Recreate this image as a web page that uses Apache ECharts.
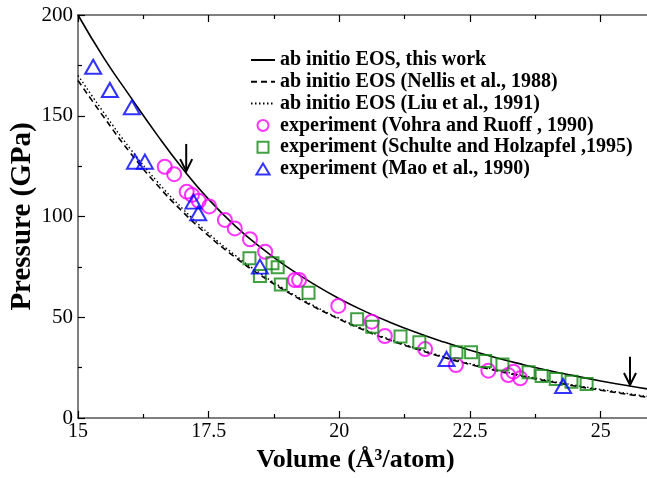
<!DOCTYPE html>
<html><head><meta charset="utf-8">
<script src="https://cdn.jsdelivr.net/npm/echarts@6/dist/echarts.min.js"></script>
<style>html,body{margin:0;padding:0;background:#fff}#c{width:647px;height:478px}</style>
</head><body><div id="c"></div>
<script>
// ---- data ----
const curveV   = [15,15.5,16,16.5,17,17.5,18,18.5,19,19.5,20,20.5,21,21.5,22,22.5,23,23.5,24,24.5,25,25.5,26];
const thisWork = [200,178.5,159.5,141,123.8,108.5,95.5,84.5,75,66.6,59.2,52.8,47.2,42.2,37.7,33.6,29.9,26.6,23.6,20.9,18.4,16.1,14];
const nellis   = [167.5,149.1,131.6,116.1,102.4,90.4,79.9,70.7,62.6,55.4,49,43.3,38.3,34,30,26.6,23.5,20.7,18.2,15.9,13.8,11.8,9.9];
const liu      = [170,151.3,133.6,117.8,103.9,91.6,80.9,71.5,63.2,55.9,49.4,43.7,38.7,34.4,30.4,27,23.9,21.1,18.6,16.3,14.2,12.2,10.3];

const vohraV = [16.66,16.84,17.08,17.18,17.31,17.51,17.81,18.0,18.29,18.58,19.15,19.23,19.98,20.62,20.87,21.64,22.23,22.85,23.23,23.33,23.46];
const vohraP = [124.7,121,112.3,110.7,107.8,105,98.3,94.1,88.7,82.5,68.5,68.5,55.6,47.8,40.7,34.2,26.3,23.5,21.3,23,19.7];

const schulteV = [18.28,18.48,18.72,18.82,18.88,19.41,20.34,20.63,21.17,21.53,22.24,22.52,22.79,23.12,23.62,23.87,24.14,24.44,24.73];
const schulteP = [79.3,70.5,76.8,74.8,66.3,62.2,49,45.3,40.4,37.6,32.6,32.6,28.3,26.6,22.7,20.8,19.4,18,16.9];

const maoV = [15.29,15.61,16.03,16.09,16.28,17.21,17.3,18.48,22.05,24.28];
const maoP = [174.3,162.8,154.2,127.2,127.2,107.4,101.6,75.1,29.3,15.9];

const arrowV     = [17.07, 25.56];
const arrowFromP = [136, 30.4];
const arrowToP   = [122.5, 16.4];

const names = [
  'ab initio EOS, this work',
  'ab initio EOS (Nellis et al., 1988)',
  'ab initio EOS (Liu et al., 1991)',
  'experiment (Vohra and Ruoff , 1990)',
  'experiment (Schulte and Holzapfel ,1995)',
  'experiment (Mao et al., 1990)'
];

const pair = (xs, ys) => xs.map((x, i) => [x, ys[i]]);
const FONT = 'Liberation Serif';

const chart = echarts.init(document.getElementById('c'), null, {renderer: 'canvas'});

const axisCommon = {
  axisLine: {show: true, lineStyle: {color: '#555', width: 1.5}},
  axisTick: {show: true, inside: true, length: 7, lineStyle: {color: '#000', width: 1.2}},
  minorTick: {show: true, splitNumber: 2, length: 4, lineStyle: {color: '#000', width: 1.2}},
  splitLine: {show: false},
  minorSplitLine: {show: false}
};

const option = {
  animation: false,
  backgroundColor: '#fff',
  grid: {left: 78, top: 15, bottom: 60, right: -6, containLabel: false, outerBoundsMode: 'none'},
  xAxis: [
    Object.assign({
      type: 'value', min: 15, max: 26, interval: 2.5, position: 'bottom',
      axisLabel: {fontFamily: FONT, fontSize: 20, color: '#000', margin: 4, showMaxLabel: false},
      name: 'Volume (Å³/atom)', nameLocation: 'middle', nameGap: 29, nameMoveOverlap: false,
      nameTextStyle: {fontFamily: FONT, fontSize: 26, fontWeight: 'bold', color: '#000', padding: [0, 20, 0, 0]}
    }, axisCommon),
    Object.assign({
      type: 'value', min: 15, max: 26, interval: 2.5, position: 'top',
      axisLabel: {show: false}
    }, axisCommon)
  ],
  yAxis: [
    Object.assign({
      type: 'value', min: 0, max: 200, interval: 50,
      axisLabel: {fontFamily: FONT, fontSize: 21, color: '#000', margin: 5},
      name: 'Pressure (GPa)', nameLocation: 'middle', nameGap: 41, nameMoveOverlap: false,
      nameTextStyle: {fontFamily: FONT, fontSize: 29, fontWeight: 'bold', color: '#000'}
    }, axisCommon)
  ],
  legend: {
    orient: 'vertical', left: 245, top: 45,
    itemWidth: 24, itemHeight: 11, itemGap: 1.8,
    data: [
      {name: names[0], itemStyle: {opacity: 0}},
      {name: names[1], itemStyle: {opacity: 0}},
      {name: names[2], itemStyle: {opacity: 0}},
      {name: names[3]},
      {name: names[4], icon: 'path://M0,0H10V10H0Z'},
      {name: names[5], icon: 'path://M6,0L12,10L0,10Z'}
    ],
    textStyle: {fontFamily: FONT, fontSize: 20, fontWeight: 'bold', color: '#000', lineHeight: 20}
  },
  series: [
    {name: names[0], type: 'line', data: pair(curveV, thisWork), smooth: true, symbol: 'none',
     lineStyle: {color: '#000', width: 1.6, type: 'solid'}, itemStyle: {color: '#000'}, z: 3},
    {name: names[1], type: 'line', data: pair(curveV, nellis), smooth: true, symbol: 'none',
     lineStyle: {color: '#000', width: 1.6, type: [6, 4]}, itemStyle: {color: '#000'}, z: 3},
    {name: names[2], type: 'line', data: pair(curveV, liu), smooth: true, symbol: 'none',
     lineStyle: {color: '#000', width: 1.4, type: [1.5, 2.5]}, itemStyle: {color: '#000'}, z: 3},
    {name: names[3], type: 'scatter', data: pair(vohraV, vohraP), symbol: 'circle', symbolSize: 14,
     itemStyle: {color: 'rgba(0,0,0,0)', borderColor: '#ff00ff', borderWidth: 2}, z: 4},
    {name: names[4], type: 'scatter', data: pair(schulteV, schulteP), symbol: 'rect', symbolSize: 12,
     itemStyle: {color: 'rgba(0,0,0,0)', borderColor: '#118811', borderWidth: 2}, z: 4},
    {name: names[5], type: 'scatter', data: pair(maoV, maoP), symbol: 'triangle', symbolSize: [16, 14],
     itemStyle: {color: 'rgba(0,0,0,0)', borderColor: '#0000ff', borderWidth: 2}, z: 5},
    {type: 'custom', silent: true, z: 6,
     data: arrowV.map((v, i) => [v, arrowFromP[i], arrowToP[i]]),
     renderItem: function (params, api) {
       const a = api.coord([api.value(0), api.value(1)]);
       const b = api.coord([api.value(0), api.value(2)]);
       const st = {stroke: '#000', lineWidth: 2, fill: null};
       return {type: 'group', children: [
         {type: 'line', shape: {x1: a[0], y1: a[1], x2: b[0], y2: b[1]}, style: st},
         {type: 'polyline', shape: {points: [[b[0] - 6, b[1] - 12], [b[0], b[1]], [b[0] + 6, b[1] - 12]]}, style: st}
       ]};
     }}
  ]
};
chart.setOption(option);
</script>
</body></html>
